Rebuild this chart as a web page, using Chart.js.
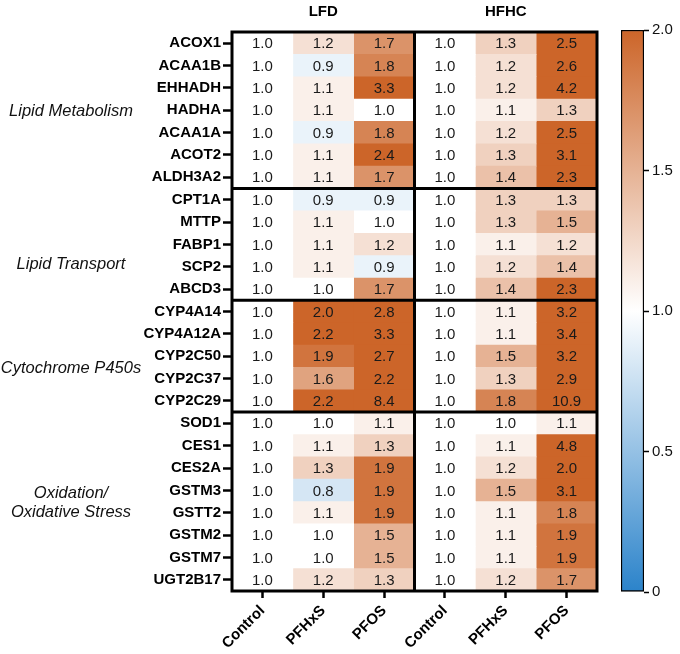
<!DOCTYPE html>
<html>
<head>
<meta charset="utf-8">
<script src="https://cdn.jsdelivr.net/npm/chart.js@4"></script>
<style>
  body { margin: 0; background: #fff; }
  #wrap { position: relative; width: 680px; height: 654px; }
  #heat { position: absolute; left: 0; top: 0; }
  #bar { position: absolute; left: 600px; top: 0; }
</style>
</head>
<body>
<div id="wrap">
  <canvas id="heat" width="680" height="654"></canvas>
  <canvas id="bar" width="80" height="654"></canvas>
</div>
<script>
const genes = [
  "ACOX1", "ACAA1B", "EHHADH", "HADHA", "ACAA1A", "ACOT2", "ALDH3A2",
  "CPT1A", "MTTP", "FABP1", "SCP2", "ABCD3",
  "CYP4A14", "CYP4A12A", "CYP2C50", "CYP2C37", "CYP2C29",
  "SOD1", "CES1", "CES2A", "GSTM3", "GSTT2", "GSTM2", "GSTM7", "UGT2B17",
];
const colLabels = ["Control", "PFHxS", "PFOS", "Control", "PFHxS", "PFOS"];
const dietLabels = ["LFD", "HFHC"];

// groups: [name lines, first row, last row]
const groups = [
  [["Lipid Metabolism"], 0, 6],
  [["Lipid Transport"], 7, 11],
  [["Cytochrome P450s"], 12, 16],
  [["Oxidation/", "Oxidative Stress"], 17, 24],
];

const lfdControl = [1.0, 1.0, 1.0, 1.0, 1.0, 1.0, 1.0, 1.0, 1.0, 1.0, 1.0, 1.0, 1.0, 1.0, 1.0, 1.0, 1.0, 1.0, 1.0, 1.0, 1.0, 1.0, 1.0, 1.0, 1.0];
const lfdPFHxS = [1.2, 0.9, 1.1, 1.1, 0.9, 1.1, 1.1, 0.9, 1.1, 1.1, 1.1, 1.0, 2.0, 2.2, 1.9, 1.6, 2.2, 1.0, 1.1, 1.3, 0.8, 1.1, 1.0, 1.0, 1.2];
const lfdPFOS = [1.7, 1.8, 3.3, 1.0, 1.8, 2.4, 1.7, 0.9, 1.0, 1.2, 0.9, 1.7, 2.8, 3.3, 2.7, 2.2, 8.4, 1.1, 1.3, 1.9, 1.9, 1.9, 1.5, 1.5, 1.3];
const hfhcControl = [1.0, 1.0, 1.0, 1.0, 1.0, 1.0, 1.0, 1.0, 1.0, 1.0, 1.0, 1.0, 1.0, 1.0, 1.0, 1.0, 1.0, 1.0, 1.0, 1.0, 1.0, 1.0, 1.0, 1.0, 1.0];
const hfhcPFHxS = [1.3, 1.2, 1.2, 1.1, 1.2, 1.3, 1.4, 1.3, 1.3, 1.1, 1.2, 1.4, 1.1, 1.1, 1.5, 1.3, 1.8, 1.0, 1.1, 1.2, 1.5, 1.1, 1.1, 1.1, 1.2];
const hfhcPFOS = [2.5, 2.6, 4.2, 1.3, 2.5, 3.1, 2.3, 1.3, 1.5, 1.2, 1.4, 2.3, 3.2, 3.4, 3.2, 2.9, 10.9, 1.1, 4.8, 2.0, 3.1, 1.8, 1.9, 1.9, 1.7];

const columns = [lfdControl, lfdPFHxS, lfdPFOS, hfhcControl, hfhcPFHxS, hfhcPFOS];
const scaleTicks = [0, 0.5, 1.0, 1.5, 2.0];

const BLUE = [43, 131, 202];
const WHITE = [255, 255, 255];
const ORANGE = [204, 101, 41];
const FONT = "'Liberation Sans', Arial, sans-serif";

function colorFor(v) {
  const t = Math.max(0, Math.min(2, v));
  let a, b, f;
  if (t < 1) { a = BLUE; b = WHITE; f = t; } else { a = WHITE; b = ORANGE; f = t - 1; }
  const c = a.map((x, i) => Math.round(x + (b[i] - x) * f));
  return `rgb(${c[0]},${c[1]},${c[2]})`;
}

const heatPlugin = {
  id: "heatDecor",
  afterDatasetsDraw(chart) {
    const c = chart.ctx;
    c.save();
    c.fillStyle = "#1a1a1a";
    c.font = `15px ${FONT}`;
    c.textAlign = "center";
    c.textBaseline = "middle";
    chart.data.datasets.forEach((ds, di) => {
      const meta = chart.getDatasetMeta(di);
      meta.data.forEach((el, i) => {
        c.fillText(columns[di][i].toFixed(1), (el.x + el.base) / 2, el.y + 1);
      });
    });
    c.restore();
  },
  afterDraw(chart) {
    const c = chart.ctx;
    const { left, right, top, bottom } = chart.chartArea;
    const xs = chart.scales.x;
    const ys = chart.scales.y;
    c.save();
    c.strokeStyle = "#000";
    c.lineWidth = 3;
    // group dividers
    groups.slice(0, -1).forEach((g) => {
      const y = (ys.getPixelForValue(g[2]) + ys.getPixelForValue(g[2] + 1)) / 2;
      c.beginPath();
      c.moveTo(left, y);
      c.lineTo(right, y);
      c.stroke();
    });
    // diet divider
    const xm = xs.getPixelForValue(3);
    c.beginPath();
    c.moveTo(xm, top);
    c.lineTo(xm, bottom);
    c.stroke();
    c.strokeRect(left, top, right - left, bottom - top);

    // diet titles
    c.fillStyle = "#000";
    c.font = `bold 15px ${FONT}`;
    c.textAlign = "center";
    c.textBaseline = "middle";
    dietLabels.forEach((d, i) => {
      c.fillText(d, xs.getPixelForValue(1.5 + i * 3), 12);
    });

    // group names
    const shift = [0, 0.85, 0.5, 0];
    c.font = `italic 16.5px ${FONT}`;
    c.fillStyle = "#111";
    groups.forEach((g, gi) => {
      const mid = (g[1] + g[2]) / 2 + shift[gi];
      const yc = ys.getPixelForValue(mid) + 1;
      const n = g[0].length;
      g[0].forEach((line, li) => {
        c.fillText(line, 71, yc + (li - (n - 1) / 2) * 19);
      });
    });
    c.restore();
  },
};

new Chart(document.getElementById("heat"), {
  type: "bar",
  data: {
    labels: genes,
    datasets: columns.map((vals, ci) => ({
      label: colLabels[ci],
      data: vals.map(() => [ci, ci + 1]),
      backgroundColor: vals.map(colorFor),
      borderWidth: 0,
      grouped: false,
      barPercentage: 1,
      categoryPercentage: 1,
    })),
  },
  options: {
    indexAxis: "y",
    responsive: false,
    animation: false,
    devicePixelRatio: 1,
    layout: { padding: { left: 0, right: 83, top: 32, bottom: 0 } },
    plugins: { legend: { display: false }, tooltip: { enabled: false } },
    scales: {
      x: {
        type: "linear",
        min: 0,
        max: 6,
        afterBuildTicks: (s) => {
          s.ticks = colLabels.map((_, i) => ({ value: i + 0.5 }));
        },
        afterFit: (s) => { s.height = 63; },
        grid: { drawOnChartArea: false, tickLength: 7, tickWidth: 2.5, tickColor: "#000" },
        border: { display: false },
        ticks: {
          autoSkip: false,
          minRotation: 45,
          maxRotation: 45,
          padding: 4,
          color: "#000",
          font: { family: FONT, size: 15, weight: "bold" },
          callback: (v) => colLabels[Math.floor(v)],
        },
      },
      y: {
        type: "category",
        offset: true,
        afterFit: (s) => { s.width = 232; },
        grid: { offset: false, drawOnChartArea: false, tickLength: 9, tickWidth: 2.5, tickColor: "#000" },
        border: { display: false },
        ticks: {
          autoSkip: false,
          padding: 2,
          color: "#000",
          font: { family: FONT, size: 15, weight: "bold" },
        },
      },
    },
  },
  plugins: [heatPlugin],
});

new Chart(document.getElementById("bar"), {
  type: "bar",
  data: {
    labels: ["scale"],
    datasets: [{
      data: [[scaleTicks[0], scaleTicks[scaleTicks.length - 1]]],
      backgroundColor: (ctx) => {
        const chart = ctx.chart;
        if (!chart.chartArea) return "#fff";
        const ys = chart.scales.y;
        const g = chart.ctx.createLinearGradient(0, ys.getPixelForValue(0), 0, ys.getPixelForValue(2));
        g.addColorStop(0, colorFor(0));
        g.addColorStop(0.5, colorFor(1));
        g.addColorStop(1, colorFor(2));
        return g;
      },
      borderColor: "#000",
      borderWidth: 1.5,
      borderSkipped: false,
      barPercentage: 1,
      categoryPercentage: 1,
    }],
  },
  options: {
    responsive: false,
    animation: false,
    devicePixelRatio: 1,
    layout: { padding: { left: 21, right: 0, top: 30, bottom: 62 } },
    plugins: { legend: { display: false }, tooltip: { enabled: false } },
    scales: {
      x: { display: false },
      y: {
        position: "right",
        min: 0,
        max: 2,
        afterBuildTicks: (s) => { s.ticks = scaleTicks.map((v) => ({ value: v })); },
        afterFit: (s) => { s.width = 36; },
        grid: { drawOnChartArea: false, tickLength: 5, tickWidth: 1.5, tickColor: "#000" },
        border: { display: false },
        ticks: {
          padding: 3,
          color: "#111",
          font: { family: FONT, size: 15 },
          callback: (v) => (v === 0 ? "0" : v.toFixed(1)),
        },
      },
    },
  },
});
</script>
</body>
</html>
